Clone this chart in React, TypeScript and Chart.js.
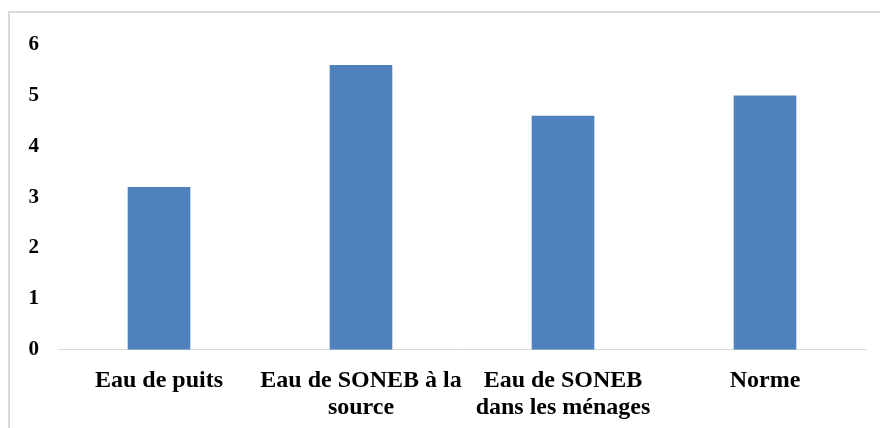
import React, { useEffect, useRef } from "react";
import { Chart, registerables } from "chart.js";

Chart.register(...registerables);

const categories: (string | string[])[] = [
  "Eau de puits",
  ["Eau de SONEB à la", "source"],
  ["Eau de SONEB", "dans les ménages"],
  "Norme",
];
const values: number[] = [3.2, 5.6, 4.6, 5.0];
const yTicks: number[] = [0, 1, 2, 3, 4, 5, 6];

export default function App() {
  const ref = useRef<HTMLCanvasElement | null>(null);

  useEffect(() => {
    if (!ref.current) return;
    const chart = new Chart(ref.current, {
      type: "bar",
      data: {
        labels: categories,
        datasets: [
          {
            data: values,
            backgroundColor: "#4f81bd",
            borderWidth: 0,
            barPercentage: 0.31,
            categoryPercentage: 1,
          },
        ],
      },
      options: {
        animation: false,
        responsive: true,
        maintainAspectRatio: false,
        layout: { padding: { top: 28, right: 14, bottom: -11, left: 0 } },
        plugins: { legend: { display: false }, tooltip: { enabled: false } },
        scales: {
          x: {
            grid: { display: false, drawTicks: false },
            border: { display: true, color: "#d9d9d9", width: 1 },
            ticks: {
              color: "#000",
              padding: 17,
              maxRotation: 0,
              autoSkip: false,
              font: { family: "'Liberation Serif', 'Times New Roman', serif", size: 24, weight: "bold", lineHeight: 1.15 },
            },
          },
          y: {
            min: 0,
            max: 6,
            grid: { display: false, drawTicks: false },
            border: { display: false },
            afterFit: (s: any) => {
              s.width = 48;
            },
            afterBuildTicks: (s: any) => {
              s.ticks = yTicks.map((v) => ({ value: v }));
            },
            ticks: {
              color: "#000",
              padding: 19,
              font: { family: "'Liberation Serif', 'Times New Roman', serif", size: 21, weight: "bold" },
            },
          },
        },
      },
    });
    return () => chart.destroy();
  }, []);

  return (
    <div
      style={{
        position: "absolute",
        left: 8,
        top: 11,
        width: 872,
        height: 417,
        boxSizing: "border-box",
        borderTop: "2px solid #d9d9d9",
        borderLeft: "2px solid #d9d9d9",
        background: "#fff",
      }}
    >
      <div style={{ position: "relative", width: 870, height: 415 }}>
        <canvas ref={ref} />
      </div>
    </div>
  );
}
